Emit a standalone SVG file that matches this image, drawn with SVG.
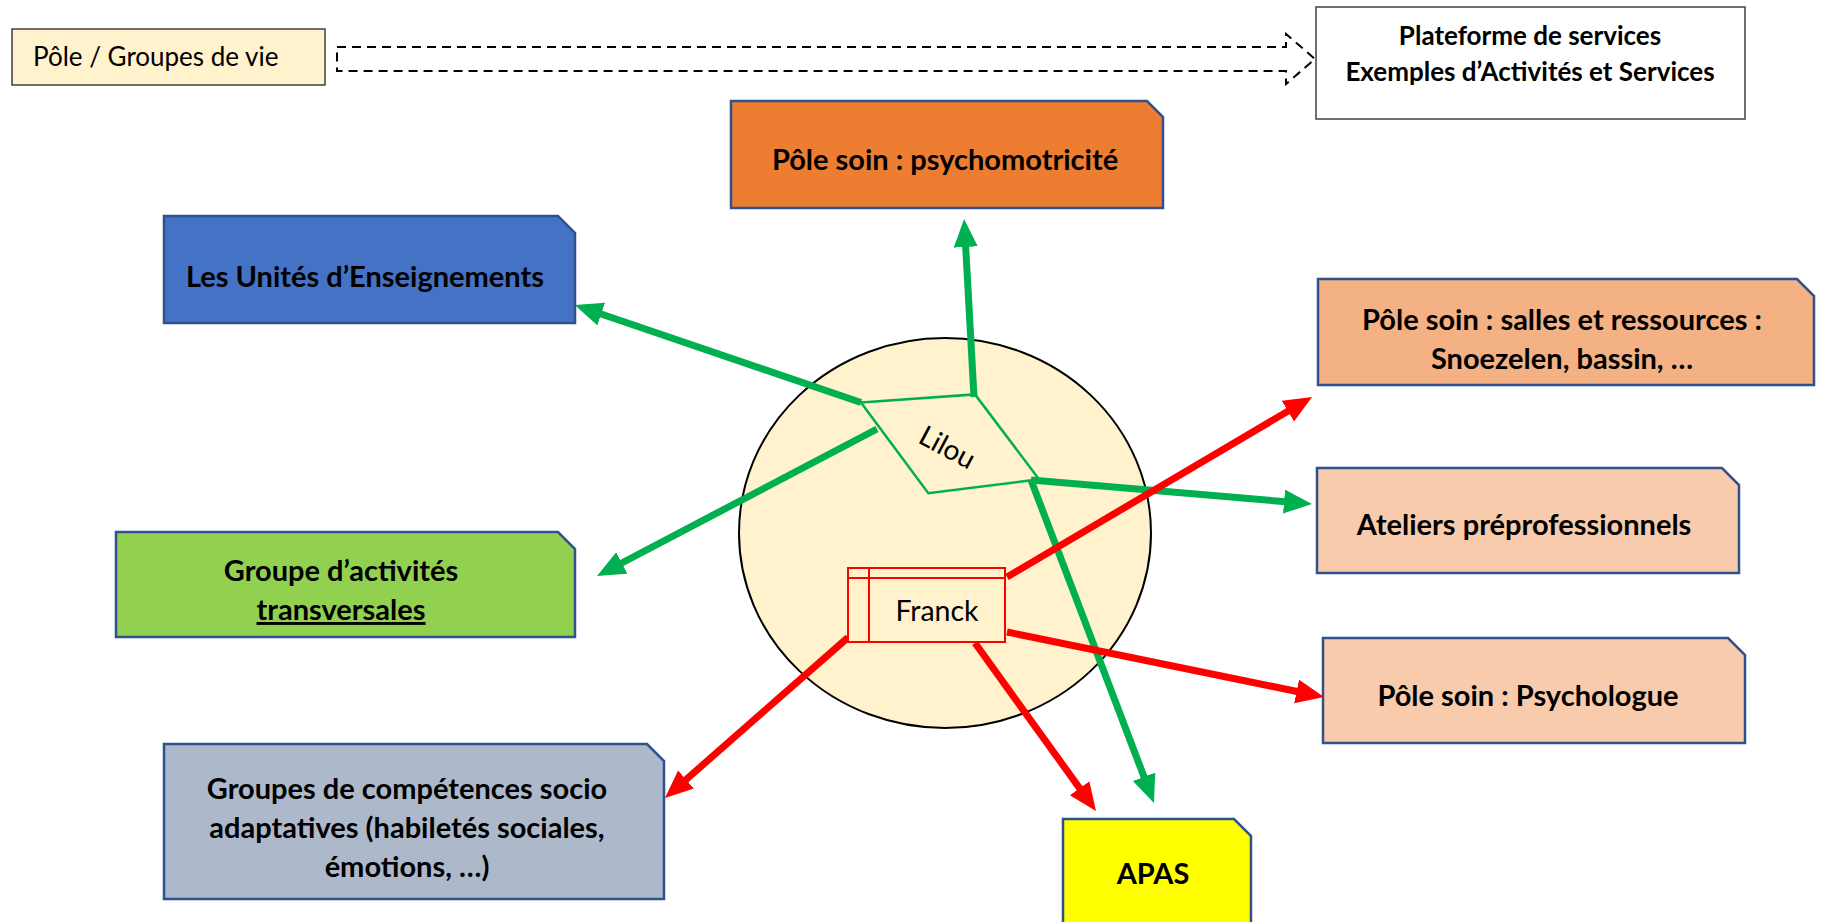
<svg xmlns="http://www.w3.org/2000/svg" width="1824" height="922" viewBox="0 0 1824 922">
<defs>
<style>
.box{stroke:#2F528F;stroke-width:2.5}
.lbl{font-family:Lato,"Open Sans",sans-serif;font-weight:bold;font-size:29px;fill:#000;text-anchor:middle}
.reg{font-family:Lato,"Open Sans",sans-serif;font-size:26px;fill:#000}
.g{stroke:#00B050;stroke-width:7;fill:none}
.r{stroke:#FF0000;stroke-width:7;fill:none}
</style>
<marker id="ag" markerUnits="userSpaceOnUse" markerWidth="30" markerHeight="26" refX="14" refY="12" orient="auto"><path d="M0,0 L28,12 L0,24 z" fill="#00B050"/></marker>
<marker id="ar" markerUnits="userSpaceOnUse" markerWidth="30" markerHeight="26" refX="14" refY="12" orient="auto"><path d="M0,0 L28,12 L0,24 z" fill="#FF0000"/></marker>
</defs>
<rect width="1824" height="922" fill="#fff"/>

<g id="legend-pole">
<rect x="12" y="29" width="313" height="56" fill="#FFF2CC" stroke="#404040" stroke-width="1.5"/>
<text class="reg" x="33" y="66">Pôle / Groupes de vie</text>
</g>
<g id="legend-arrow">
<path d="M337,47 L1286,47 L1286,34 L1315,59 L1286,84 L1286,71 L337,71 Z" fill="none" stroke="#000" stroke-width="2" stroke-dasharray="9,6"/>
</g>
<g id="plateforme">
<rect x="1316" y="7" width="429" height="112" fill="#fff" stroke="#404040" stroke-width="1.5"/>
<text class="lbl" x="1530" y="45" style="font-size:26px">Plateforme de services</text>
<text class="lbl" x="1530" y="81" style="font-size:26px">Exemples d’Activités et Services</text>
</g>

<g id="centre">
<ellipse cx="945" cy="533" rx="206" ry="195" fill="#FFF2CC" stroke="#000" stroke-width="2"/>
</g>

<g id="psychomotricite">
<path class="box" d="M731,101 L1147,101 L1163,117 L1163,208 L731,208 Z" fill="#ED7D31"/>
<text class="lbl" x="945" y="170">Pôle soin : psychomotricité</text>
</g>
<g id="unites">
<path class="box" d="M164,216 L558,216 L575,233 L575,323 L164,323 Z" fill="#4472C4"/>
<text class="lbl" x="365" y="287">Les Unités d’Enseignements</text>
</g>
<g id="salles">
<path class="box" d="M1318,279 L1797,279 L1814,296 L1814,385 L1318,385 Z" fill="#F4B183"/>
<text class="lbl" x="1562" y="330">Pôle soin : salles et ressources :</text>
<text class="lbl" x="1562" y="369">Snoezelen, bassin, …</text>
</g>
<g id="ateliers">
<path class="box" d="M1317,468 L1722,468 L1739,485 L1739,573 L1317,573 Z" fill="#F8CBAD"/>
<text class="lbl" x="1524" y="535">Ateliers préprofessionnels</text>
</g>
<g id="psychologue">
<path class="box" d="M1323,638 L1728,638 L1745,655 L1745,743 L1323,743 Z" fill="#F8CBAD"/>
<text class="lbl" x="1528" y="706">Pôle soin : Psychologue</text>
</g>
<g id="transversales">
<path class="box" d="M116,532 L558,532 L575,549 L575,637 L116,637 Z" fill="#92D050"/>
<text class="lbl" x="341" y="581">Groupe d’activités</text>
<text class="lbl" x="341" y="620" text-decoration="underline">transversales</text>
</g>
<g id="competences">
<path class="box" d="M164,744 L647,744 L664,761 L664,899 L164,899 Z" fill="#ADB9CA"/>
<text class="lbl" x="407" y="799">Groupes de compétences socio</text>
<text class="lbl" x="407" y="838">adaptatives (habiletés sociales,</text>
<text class="lbl" x="407" y="877">émotions, …)</text>
</g>
<g id="apas">
<path class="box" d="M1063,819 L1234,819 L1251,836 L1251,924 L1063,924 Z" fill="#FFFF00"/>
<text class="lbl" x="1153" y="884">APAS</text>
</g>

<g id="connectors">
<line class="g" x1="861" y1="402.5" x2="588" y2="309.5" marker-end="url(#ag)"/>
<line class="g" x1="974" y1="397" x2="964.9" y2="233" marker-end="url(#ag)"/>
<line class="g" x1="877" y1="429" x2="609.4" y2="569.5" marker-end="url(#ag)"/>
<line class="g" x1="1031" y1="480" x2="1298" y2="502.8" marker-end="url(#ag)"/>
<line class="g" x1="1031" y1="480" x2="1149" y2="789.9" marker-end="url(#ag)"/>
<line class="r" x1="1007" y1="577" x2="1300" y2="404.1" marker-end="url(#ar)"/>
<line class="r" x1="1007" y1="632" x2="1310.3" y2="694.2" marker-end="url(#ar)"/>
<line class="r" x1="975" y1="643" x2="1087.8" y2="799.6" marker-end="url(#ar)"/>
<line class="r" x1="848" y1="637.5" x2="675.5" y2="788.8" marker-end="url(#ar)"/>
</g>

<g id="lilou">
<path d="M861,402.5 L975,394.4 L1039,479.3 L928.3,493.2 Z" fill="none" stroke="#00B050" stroke-width="2.5"/>
<text class="reg" x="947" y="457" style="font-size:28px" text-anchor="middle" transform="rotate(28 947 448)">Lilou</text>
</g>
<g id="franck">
<rect x="848" y="568" width="157" height="74" fill="#FFF2CC" stroke="#FF0000" stroke-width="2"/>
<line x1="848" y1="578" x2="1005" y2="578" stroke="#FF0000" stroke-width="2"/>
<line x1="869" y1="568" x2="869" y2="642" stroke="#FF0000" stroke-width="2"/>
<text class="reg" x="937" y="621" style="font-size:28.5px" text-anchor="middle">Franck</text>
</g>
</svg>
